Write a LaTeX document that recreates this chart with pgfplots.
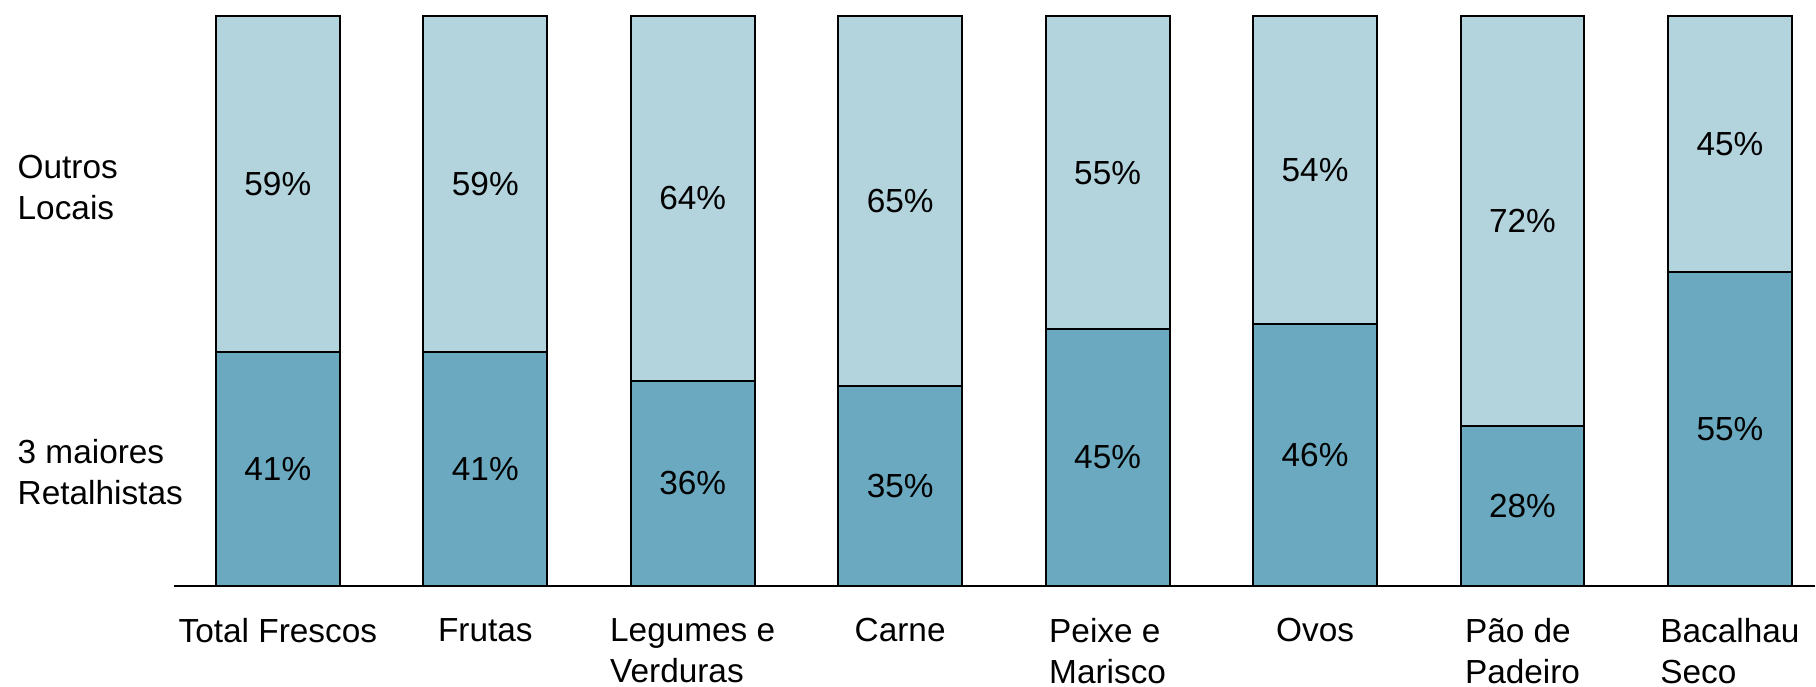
\documentclass[border=0pt]{standalone}
\usepackage{pgfplots}
\pgfplotsset{compat=1.18}
\usepackage{fontspec}
\setmainfont{Liberation Sans}
\definecolor{darkb}{RGB}{106,169,191}
\definecolor{lightb}{RGB}{179,211,221}
\begin{document}
\fontsize{9.5}{11.7}\selectfont
\begin{tikzpicture}
\path (0,0) rectangle (181.6mm,68.7mm);
\begin{axis}[
  at={(17.4mm,10.1mm)}, anchor=south west,
  scale only axis, width=164.2mm, height=57mm,
  xmin=-0.501, xmax=7.41, ymin=0, ymax=100,
  ybar stacked, bar width=12.4mm,
  axis x line=bottom, axis y line=none,
  x axis line style={-, line width=0.2mm, black},
  xtick=data,
  xticklabels={Total Frescos, Frutas, {Legumes e\\Verduras}, Carne, {Peixe e\\Marisco}, Ovos, {Pão de\\Padeiro}, {Bacalhau\\Seco}},
  major tick length=0pt,
  xticklabel style={align=left, anchor=north, inner sep=0pt, yshift=-3.2mm},
  ytick=\empty,
  clip=false,
  point meta=rawy,
  nodes near coords={\pgfmathprintnumber[assume math mode=true]{\pgfplotspointmeta}\%},
  every node near coord/.append style={anchor=center, inner sep=0pt},
]
\addplot[fill=darkb, draw=black, line width=0.2mm] coordinates {(0,41) (1,41) (2,36) (3,35) (4,45) (5,46) (6,28) (7,55)};
\addplot[fill=lightb, draw=black, line width=0.2mm] coordinates {(0,59) (1,59) (2,64) (3,65) (4,55) (5,54) (6,72) (7,45)};
\end{axis}
\node[anchor=west, align=left, inner sep=0pt] at (1.7mm,49.9mm) {Outros\\Locais};
\node[anchor=west, align=left, inner sep=0pt] at (1.7mm,21.5mm) {3 maiores\\Retalhistas};
\end{tikzpicture}
\end{document}
